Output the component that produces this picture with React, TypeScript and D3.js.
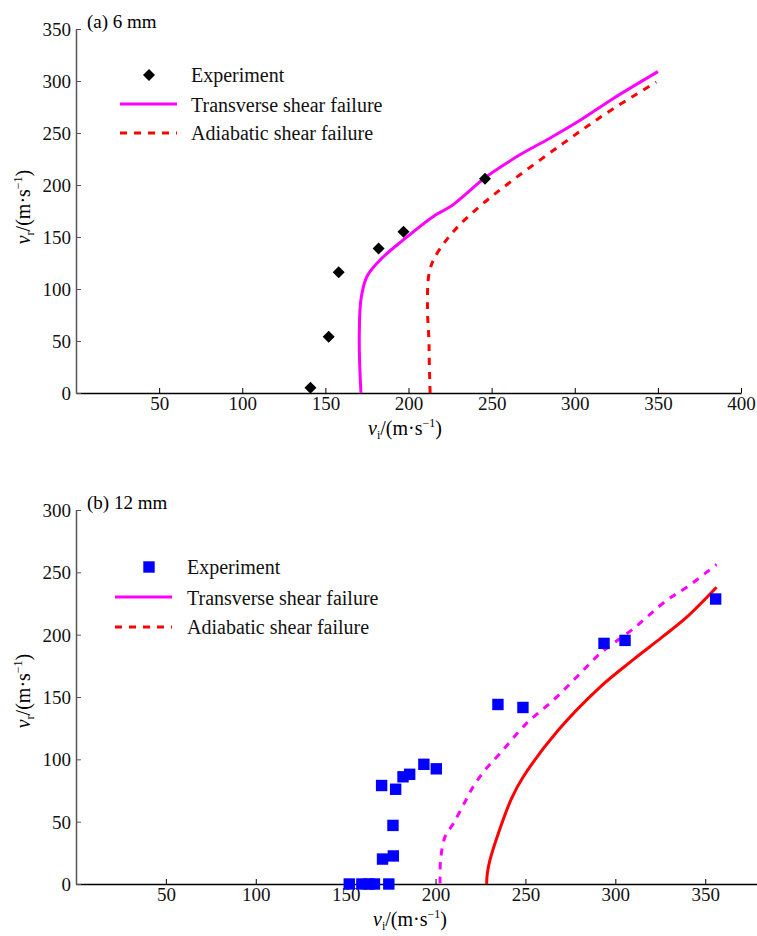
import React, { useRef, useEffect } from "react";
import * as d3 from "d3";

// panel (a) 6 mm
const expA_vi = [141, 152, 158, 182, 197, 246];
const expA_vr = [5, 54, 116, 139, 155, 206];
const transA_vi = [171.4, 170.6, 170.4, 171.4, 175, 183, 196.7, 216, 225, 235, 246, 267, 285, 303, 323, 350];
const transA_vr = [0, 30, 54, 90, 112, 128, 147, 171, 179, 192, 207, 229, 245, 262, 283, 309];
const adiaA_vi = [213, 212.5, 212.3, 211.4, 212.4, 216, 228, 244, 263, 293, 319, 349];
const adiaA_vr = [0, 30, 50, 83, 115, 131, 157, 181, 205, 240, 269, 299];

// panel (b) 12 mm
const expB_vi = [152, 159, 163, 166, 174, 170.5, 176.5, 176.3, 170, 177.8, 181.9, 185.6, 193.5, 200.4, 234.7, 248.6, 293.7, 305.4, 355.8];
const expB_vr = [0, 0, 0, 0, 0, 20, 22.5, 47, 79, 76, 86, 88, 96, 92.4, 144, 141.6, 193, 195.4, 228.6];
const transB_vi = [202.5, 202.8, 205.3, 210, 216.4, 220.9, 227.5, 235.9, 250.7, 265.5, 278.5, 291.5, 310, 328.5, 339.7, 356.3];
const transB_vr = [0.5, 19.3, 38, 48.7, 66, 78, 91.4, 104.8, 129, 147.4, 166, 184.8, 204.8, 227.5, 238, 256.3];
const adiaB_vi = [228.4, 228.8, 230.2, 234.9, 242.3, 248.8, 268.3, 291.5, 310, 326, 339.7, 356.3];
const adiaB_vr = [0, 8.5, 19, 40.6, 68.7, 86, 123.5, 158, 180, 198, 214, 238];

const legendLabels = ["Experiment", "Transverse shear failure", "Adiabatic shear failure"];
const FONT = "'Liberation Serif', 'DejaVu Serif', serif";

const zip = (xs: number[], ys: number[]) => xs.map((x, i) => [x, ys[i]] as [number, number]);

function unitLabel(sel: any, sub: string) {
  sel.append("tspan").attr("font-style", "italic").text("v");
  sel.append("tspan").attr("font-size", 12).attr("dy", 4).text(sub);
  sel.append("tspan").attr("dy", -4).text("/(m·s");
  sel.append("tspan").attr("font-size", 12).attr("dy", -8).text("−1");
  sel.append("tspan").attr("dy", 8).text(")");
}

function drawPanel(svg: any, o: any) {
  const g = svg.append("g");
  const x = d3.scaleLinear().domain(o.xDomain).range([76, o.xEnd]);
  const y = d3.scaleLinear().domain(o.yDomain).range([o.yBottom, o.yTop]);

  const xAxis = d3.axisBottom(x).tickValues(o.xTicks).tickSizeInner(-5).tickSizeOuter(0).tickPadding(4);
  const gx = g.append("g").attr("transform", `translate(0,${o.yBottom})`).call(xAxis);
  gx.select(".domain").attr("stroke", "#000").attr("stroke-width", 1.3);
  gx.selectAll(".tick line").attr("stroke", "#000");
  gx.selectAll("text").attr("font-size", 19).attr("font-family", FONT).attr("fill", "#111");

  const yAxis = d3.axisLeft(y).tickValues(o.yTicks).tickSizeInner(-5).tickSizeOuter(0).tickPadding(5);
  const gy = g.append("g").attr("transform", "translate(76,0)").call(yAxis);
  gy.select(".domain").attr("stroke", "#555").attr("stroke-width", 1.5);
  gy.selectAll(".tick line").attr("stroke", "#555");
  gy.selectAll("text").attr("font-size", 19).attr("font-family", FONT).attr("fill", "#111").attr("dy", "0.34em");

  // title
  g.append("text").attr("x", 87).attr("y", o.yTop - 1).attr("font-size", 19).attr("font-family", FONT).text(o.title);

  // axis labels
  const xl = g.append("text").attr("x", o.xLabelX).attr("y", o.yBottom + 42).attr("text-anchor", "middle")
    .attr("font-size", 20).attr("font-family", FONT);
  unitLabel(xl, "i");

  const yl = g.append("text").attr("transform", `translate(30,${o.yLabelY}) rotate(-90)`).attr("text-anchor", "middle")
    .attr("font-size", 20).attr("font-family", FONT);
  unitLabel(yl, "r");

  const line = d3.line().x((d: any) => x(d[0])).y((d: any) => y(d[1])).curve(d3.curveCatmullRom);

  o.lines.forEach((l: any) => {
    g.append("path").datum(zip(l.xs, l.ys)).attr("d", line as any).attr("fill", "none")
      .attr("stroke", l.color).attr("stroke-width", 3).attr("stroke-dasharray", l.dash || null);
  });

  const isDiamond = o.marker === "diamond";
  const sym = d3.symbol().type(d3.symbolSquare).size(isDiamond ? 72 : 130);
  g.selectAll(".pt").data(zip(o.exp[0], o.exp[1])).enter().append("path")
    .attr("d", sym as any)
    .attr("transform", (d: any) => `translate(${x(d[0])},${y(d[1])})${isDiamond ? " rotate(45)" : ""}`)
    .attr("fill", o.markerColor);

  // legend
  const lg = g.append("g").attr("transform", `translate(0,${o.legendY})`);
  lg.append("path").attr("d", sym as any)
    .attr("transform", `translate(${o.legendMarkX},0)${isDiamond ? " rotate(45)" : ""}`).attr("fill", o.markerColor);
  o.lines.forEach((l: any, i: number) => {
    const ly = o.legendGap * (i + 1);
    lg.append("line").attr("x1", o.legendLineX[0]).attr("x2", o.legendLineX[1]).attr("y1", ly).attr("y2", ly)
      .attr("stroke", l.legendColor).attr("stroke-width", 3).attr("stroke-dasharray", l.legendDash || null);
  });
  legendLabels.forEach((t, i) => {
    lg.append("text").attr("x", o.legendTextX).attr("y", i === 0 ? 0 : o.legendGap * i + (i === 1 ? 1 : 0))
      .attr("dy", "0.35em").attr("font-size", 20).attr("font-family", FONT).attr("fill", "#111").text(t);
  });
}

const App = () => {
  const svgRef = useRef(null);

  useEffect(() => {
    const svg = d3.select(svgRef.current);
    svg.selectAll("*").remove();

    drawPanel(svg, {
      title: "(a) 6 mm",
      xDomain: [0, 400], xEnd: 741, xTicks: [50, 100, 150, 200, 250, 300, 350, 400],
      yDomain: [0, 350], yBottom: 393, yTop: 29, yTicks: [0, 50, 100, 150, 200, 250, 300, 350],
      xLabelX: 405, yLabelY: 207,
      exp: [expA_vi, expA_vr], marker: "diamond", markerColor: "#000",
      lines: [
        { xs: transA_vi, ys: transA_vr, color: "#ff00ff", legendColor: "#ff00ff" },
        { xs: adiaA_vi, ys: adiaA_vr, color: "#ff0000", dash: "7,7", legendColor: "#ff0000", legendDash: "7,7" },
      ],
      legendY: 75, legendGap: 29, legendMarkX: 149, legendLineX: [120, 177], legendTextX: 191,
    });

    drawPanel(svg, {
      title: "(b) 12 mm",
      xDomain: [0, 378.8], xEnd: 757, xTicks: [50, 100, 150, 200, 250, 300, 350],
      yDomain: [0, 300], yBottom: 884, yTop: 510, yTicks: [0, 50, 100, 150, 200, 250, 300],
      xLabelX: 410, yLabelY: 691,
      exp: [expB_vi, expB_vr], marker: "square", markerColor: "#0000ff",
      lines: [
        { xs: transB_vi, ys: transB_vr, color: "#ff00ff", dash: "7,7", legendColor: "#ff00ff" },
        { xs: adiaB_vi, ys: adiaB_vr, color: "#ff0000", legendColor: "#ff0000", legendDash: "7,7" },
      ],
      legendY: 567, legendGap: 30, legendMarkX: 149, legendLineX: [115, 172], legendTextX: 187,
    });
  }, []);

  return (
    <svg ref={svgRef} width={757} height={936}
      style={{ position: "absolute", left: 0, top: 0, background: "#fff" }} />
  );
};

export default App;
